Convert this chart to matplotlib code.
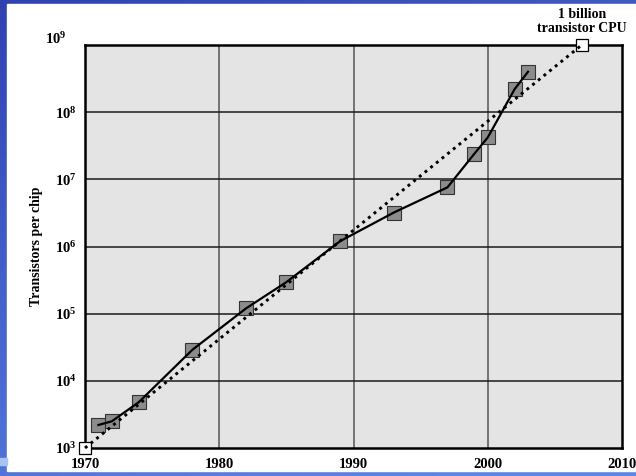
"""
Transistors per chip over time (Moore's law slide)
"""

import numpy as np
import matplotlib.pyplot as plt
from matplotlib.patches import Rectangle
from matplotlib.transforms import ScaledTranslation

# Data
years = [1971, 1972, 1974, 1978, 1982, 1985, 1989, 1993, 1997, 1999, 2000, 2002, 2003]
transistors = [2200, 2500, 4800, 29000, 120000, 295000, 1.2e6, 3.2e6, 7.6e6,
               2.4e7, 4.2e7, 2.2e8, 4.0e8]

# Trend line end points (open squares)
trend_years = [1970, 2007]
trend_values = [1e3, 1e9]

x_ticks = [1970, 1980, 1990, 2000, 2010]
y_exps = [3, 4, 5, 6, 7, 8, 9]

plt.rcParams["font.family"] = ["Liberation Serif", "DejaVu Serif"]
plt.rcParams["font.weight"] = "bold"
plt.rcParams["mathtext.fontset"] = "custom"
plt.rcParams["mathtext.rm"] = "Liberation Serif:bold"
plt.rcParams["mathtext.bf"] = "Liberation Serif:bold"
plt.rcParams["mathtext.it"] = "Liberation Serif:bold"

fig = plt.figure(figsize=[6.36, 4.76], dpi=100)

# Slide background: blue gradient with a white panel
bg = fig.add_axes([0, 0, 1, 1], zorder=-10)
gx, gy = np.meshgrid(np.linspace(0, 1, 64), np.linspace(0, 1, 64))
t = np.clip(0.35 * gx + 0.75 * gy, 0, 1)[..., None]
dark = np.array([0.19, 0.26, 0.70])
light = np.array([0.36, 0.52, 0.90])
bg.imshow(dark * (1 - t) + light * t, extent=[0, 1, 1, 0], aspect="auto")
bg.set_xlim(0, 1)
bg.set_ylim(1, 0)
bg.add_patch(Rectangle((7 / 636, 4 / 476), 629 / 636, 467 / 476, color="white"))
bg.add_patch(Rectangle((0, 458 / 476), 7 / 636, 7 / 476, color="#a8c4f2"))
bg.axis("off")

ax = fig.add_axes([85 / 636, 28 / 476, 537 / 636, 403 / 476])
ax.set_facecolor("#e4e4e4")
ax.set_yscale("log")
ax.set_xlim(1970, 2010)
ax.set_ylim(1e3, 1e9)

# Grid
for yr in x_ticks[1:-1]:
    ax.axvline(yr, color="#555555", lw=1.1, zorder=1)
for e in y_exps[1:-1]:
    ax.axhline(10.0 ** e, color="#1a1a1a", lw=1.1, zorder=1)

# Markers under the lines
ax.plot(years, transistors, ls="none", marker="s", ms=9.8, mfc="#8c8c8c",
        mec="#333333", mew=0.8, zorder=3, clip_on=False)
ax.plot(trend_years, trend_values, ls="none", marker="s", ms=8.5, mfc="white",
        mec="black", mew=0.9, zorder=3, clip_on=False)

ax.plot(years, transistors, color="black", lw=1.6, zorder=4, clip_on=False)
ax.plot(trend_years, trend_values, color="black", lw=2.1,
        ls=(0, (1, 1.5)), dash_capstyle="butt", zorder=4, clip_on=False)

ax.annotate("1 billion\ntransistor CPU", xy=(trend_years[1], trend_values[1]),
            xytext=(0, 7), textcoords="offset points", ha="center", va="bottom",
            fontsize=10, fontweight="bold", linespacing=1.15, annotation_clip=False)

ax.set_xticks(x_ticks)
ax.set_xticklabels([str(v) for v in x_ticks])
ax.set_yticks([10.0 ** e for e in y_exps])
ax.set_yticklabels([r"$10^{%d}$" % e for e in y_exps])
ax.minorticks_off()
ax.tick_params(axis="x", length=0, pad=7, labelsize=10.5)
ax.tick_params(axis="y", length=0, pad=6, labelsize=10.5)

# Top label sits a little up and to the left in the original
top = ax.get_yticklabels()[-1]
top.set_transform(top.get_transform()
                  + ScaledTranslation(-0.10, 0.07, fig.dpi_scale_trans))

ax.set_ylabel("Transistors per chip", fontsize=10, fontweight="bold")
ax.yaxis.set_label_coords(-0.078, 0.5)

for s in ax.spines.values():
    s.set_linewidth(1.8)
    s.set_color("black")

fig.savefig("out.png", dpi=100)
